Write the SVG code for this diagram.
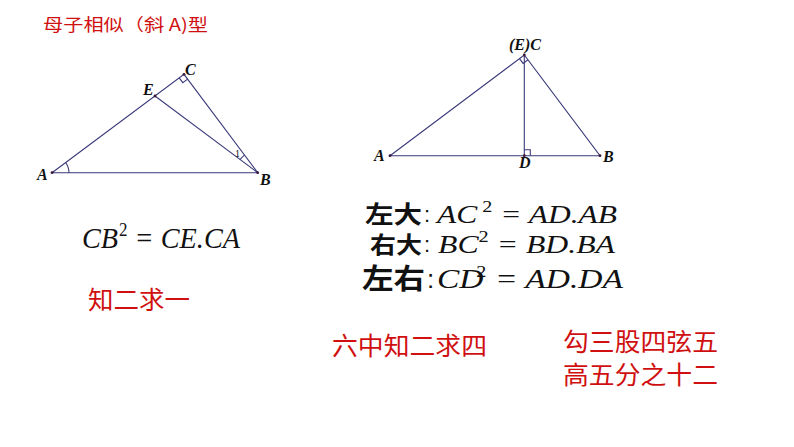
<svg xmlns="http://www.w3.org/2000/svg" width="794" height="447" viewBox="0 0 794 447">
<style>
.ln{stroke:#3a3a7a;stroke-width:1.1;fill:none}
.pt{fill:#3a1a3a}
.lb{font-family:"Liberation Serif",serif;font-style:italic;font-weight:bold;font-size:16px;fill:#111}
.red{font-family:"Noto Sans CJK SC","Noto Sans",sans-serif;fill:#d01010}
.cj{font-family:"Noto Sans CJK SC","Noto Sans",sans-serif;font-weight:bold;fill:#111}
.mt{font-family:"Liberation Serif",serif;font-style:italic;fill:#111}
.cl{font-family:"Liberation Sans",sans-serif;fill:#111}
</style>
<rect width="794" height="447" fill="#fff"/>
<text class="red" x="43" y="31" font-size="17" textLength="165" lengthAdjust="spacingAndGlyphs">母子相似（斜 A)型</text>
<g id="left-triangle">
<g id="connectors-left">
<polyline class="ln" points="52,172.7 257.7,172.7 184,74.3 52,172.7"/>
<line class="ln" x1="155" y1="96" x2="257.7" y2="172.7"/>
<polyline class="ln" points="179.2,77.9 182.8,82.7 187.6,79.1"/>
<path class="ln" d="M69,172.7 A17,17 0 0 0 65.6,162.5"/>
<path class="ln" d="M240.1,159.5 A22,22 0 0 1 244.5,155.1"/>
</g>
<circle class="pt" cx="52" cy="172.7" r="1.4"/>
<circle class="pt" cx="257.7" cy="172.7" r="1.4"/>
<circle class="pt" cx="184" cy="74.3" r="1.4"/>
<circle class="pt" cx="155" cy="96" r="1.4"/>
<text class="lb" x="37" y="180">A</text>
<text class="lb" x="260" y="185">B</text>
<text class="lb" x="185" y="75">C</text>
<text class="lb" x="143" y="95">E</text>
<text x="235" y="157" font-family="Liberation Serif,serif" font-size="10" fill="#111">1</text>
</g>
<g id="right-triangle">
<g id="connectors-right">
<polyline class="ln" points="390,155.7 600,155.7 524.3,55 390,155.7"/>
<line class="ln" x1="524.3" y1="55" x2="524.3" y2="155.7"/>
<polyline class="ln" points="519.5,58.6 523.1,63.4 527.9,59.8"/>
<polyline class="ln" points="524.3,149.7 530.3,149.7 530.3,155.7"/>
</g>
<circle class="pt" cx="390" cy="155.7" r="1.4"/>
<circle class="pt" cx="600" cy="155.7" r="1.4"/>
<circle class="pt" cx="524.3" cy="55" r="1.4"/>
<circle class="pt" cx="524.3" cy="155.7" r="1.4"/>
<text class="lb" x="374" y="161">A</text>
<text class="lb" x="603" y="162">B</text>
<text class="lb" x="519" y="168">D</text>
<text class="lb" x="509" y="50">(E)C</text>
</g>
<g id="eq-left">
<text class="mt" x="82" y="248" font-size="30" textLength="158" lengthAdjust="spacingAndGlyphs">CB<tspan dx="1" dy="-12" font-size="18" font-style="normal">2</tspan><tspan dy="12"> = CE.CA</tspan></text>
</g>
<text class="red" x="88" y="309" font-size="25" textLength="102" lengthAdjust="spacingAndGlyphs">知二求一</text>
<g id="eq-right">
<text class="cj" x="365" y="223" font-size="24" textLength="57" lengthAdjust="spacingAndGlyphs">左大</text>
<text class="cl" x="424" y="222" font-size="22">:</text>
<text class="mt" x="437" y="223" font-size="25" textLength="180" lengthAdjust="spacingAndGlyphs">AC<tspan dy="-11" font-size="16" font-style="normal"> 2</tspan><tspan dy="11"> = AD.AB</tspan></text>
<text class="cj" x="370" y="253" font-size="23" textLength="52" lengthAdjust="spacingAndGlyphs">右大</text>
<text class="cl" x="424" y="252" font-size="22">:</text>
<text class="mt" x="438" y="253" font-size="25" textLength="177" lengthAdjust="spacingAndGlyphs">BC<tspan dy="-11" font-size="16" font-style="normal">2</tspan><tspan dy="11"> = BD.BA</tspan></text>
<text class="cj" x="362" y="289" font-size="28" textLength="63" lengthAdjust="spacingAndGlyphs">左右</text>
<text class="cl" x="427" y="288" font-size="26">:</text>
<text class="mt" x="437" y="288" font-size="28" textLength="186" lengthAdjust="spacingAndGlyphs">CD<tspan dx="-6" dy="-11" font-size="17" font-style="normal">2</tspan><tspan dy="11"> = AD.DA</tspan></text>
</g>
<text class="red" x="332" y="355" font-size="25" textLength="155" lengthAdjust="spacingAndGlyphs">六中知二求四</text>
<text class="red" x="563" y="351" font-size="25" textLength="155" lengthAdjust="spacingAndGlyphs">勾三股四弦五</text>
<text class="red" x="563" y="384" font-size="25" textLength="155" lengthAdjust="spacingAndGlyphs">高五分之十二</text>
</svg>
